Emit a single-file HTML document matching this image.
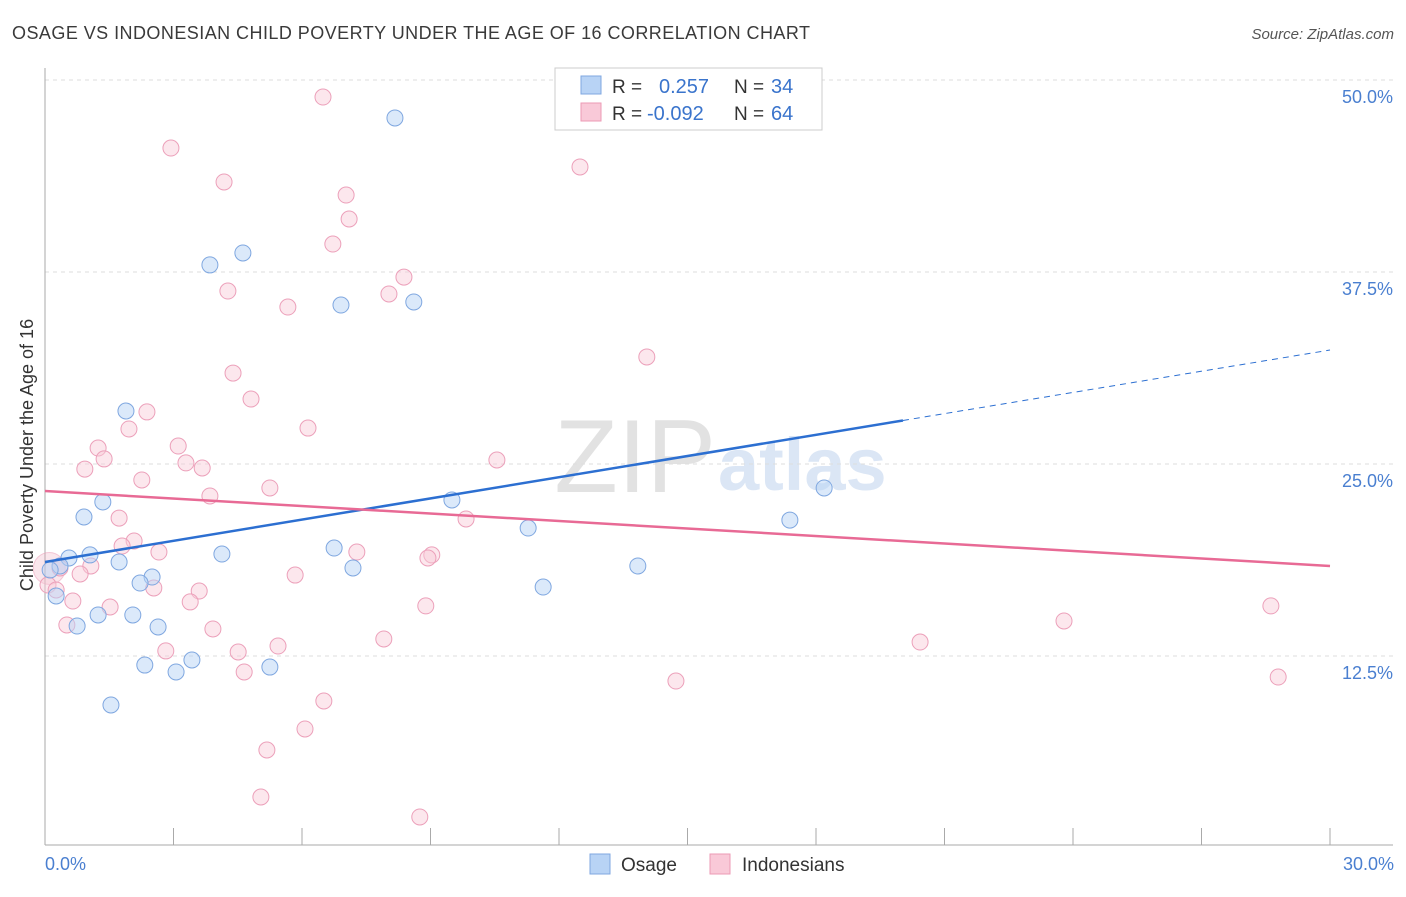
<!DOCTYPE html>
<html><head><meta charset="utf-8"><style>
body{margin:0;background:#fff;font-family:"Liberation Sans",sans-serif;}
svg text{font-family:"Liberation Sans",sans-serif;}
</style></head><body>
<svg id="chart" width="1406" height="892" xmlns="http://www.w3.org/2000/svg">
<text x="12" y="39" font-size="18" fill="#3a3a3a" letter-spacing="0.45">OSAGE VS INDONESIAN CHILD POVERTY UNDER THE AGE OF 16 CORRELATION CHART</text>
<text x="1394" y="39" font-size="15" fill="#555" text-anchor="end" font-style="italic">Source: ZipAtlas.com</text>
<text x="716" y="492" font-size="104" fill="#e2e2e2" text-anchor="end" font-family="Liberation Serif">ZIP</text>
<text x="718" y="490" font-size="74" fill="#dbe6f5" font-weight="bold">atlas</text>
<g id="grid"></g><g id="axes"></g><g id="marks"></g>
<text transform="translate(33,455) rotate(-90)" font-size="18" fill="#333" text-anchor="middle">Child Poverty Under the Age of 16</text>
<text x="45" y="870" font-size="18" fill="#4a7fd0">0.0%</text>
<text x="1394" y="870" font-size="18" fill="#4a7fd0" text-anchor="end">30.0%</text>
<g>
<rect x="555" y="68" width="267" height="62" fill="#fff" stroke="#ccc"/>
<rect x="581" y="76" width="20" height="18" fill="#b8d3f5" stroke="#7fa7e0"/>
<rect x="581" y="103" width="20" height="18" fill="#f9c9d8" stroke="#ec9ab5"/>
<text x="612" y="93" font-size="19" fill="#333">R =</text><text x="659" y="93" font-size="20" fill="#3a74cc">0.257</text>
<text x="734" y="93" font-size="19" fill="#333">N =</text><text x="771" y="93" font-size="20" fill="#3a74cc">34</text>
<text x="612" y="120" font-size="19" fill="#333">R =</text><text x="647" y="120" font-size="20" fill="#3a74cc">-0.092</text>
<text x="734" y="120" font-size="19" fill="#333">N =</text><text x="771" y="120" font-size="20" fill="#3a74cc">64</text>
</g>
<g>
<rect x="590" y="854" width="20" height="20" fill="#b8d3f5" stroke="#7fa7e0"/>
<text x="621" y="871" font-size="19" fill="#333">Osage</text>
<rect x="710" y="854" width="20" height="20" fill="#f9c9d8" stroke="#ec9ab5"/>
<text x="742" y="871" font-size="19" fill="#333">Indonesians</text>
</g>
</svg>
<script>
const yTicks=[12.5,25,37.5,50];
const yTickLabels=["12.5%","25.0%","37.5%","50.0%"];
const xTicks=[0,3,6,9,12,15,18,21,24,27,30];
const osageX=[8.17,3.85,4.62,6.91,8.61,1.89,1.35,0.91,9.50,11.28,18.19,17.39,0.56,1.05,1.73,0.35,0.26,2.50,2.22,1.24,2.05,0.75,2.64,4.13,6.75,7.19,11.63,13.84,2.33,3.06,3.43,5.25,1.54,0.12];
const osageY=[47.53,37.96,38.74,35.35,35.55,28.45,22.53,21.55,22.66,20.83,23.44,21.35,18.88,19.08,18.62,18.36,16.41,17.64,17.25,15.17,15.17,14.45,14.39,19.14,19.53,18.23,16.99,18.36,11.91,11.46,12.24,11.78,9.31,18.1];
const indoX=[6.49,2.94,4.18,7.03,7.10,6.72,12.49,8.38,4.27,8.03,5.67,14.05,4.39,4.81,2.38,1.96,6.14,1.24,3.11,1.38,0.93,3.29,3.67,2.26,3.85,5.25,10.55,1.73,9.83,2.08,1.80,2.66,7.28,9.03,8.94,1.07,0.35,0.82,0.07,0.26,2.54,0.65,1.52,3.60,3.39,5.84,8.89,0.51,3.92,5.44,7.91,2.82,4.51,4.65,20.43,23.79,28.62,28.79,14.73,6.51,6.07,5.18,5.04,8.75];
const indoY=[48.89,45.57,43.36,42.51,40.95,39.32,44.34,37.17,36.26,36.07,35.22,31.97,30.92,29.23,28.39,27.28,27.34,26.04,26.17,25.33,24.67,25.07,24.74,23.96,22.92,23.44,25.26,21.48,21.42,19.99,19.66,19.27,19.27,19.08,18.88,18.36,18.23,17.84,17.12,16.80,16.93,16.08,15.69,16.73,16.02,17.77,15.76,14.52,14.26,13.15,13.61,12.83,12.76,11.46,13.41,14.78,15.76,11.13,10.87,9.57,7.75,6.38,3.32,2.02];
const osageTrend=[18.62,32.42]; const osageSolidEnd=20.03;
const indoTrend=[23.24,18.36];
const NS="http://www.w3.org/2000/svg";
const sx=v=>45+v/30*1285, sy=v=>80+(50-v)*15.36;
function mk(parent,tag,attrs){const e=document.createElementNS(NS,tag);for(const k in attrs)e.setAttribute(k,attrs[k]);document.getElementById(parent).appendChild(e);return e;}
yTicks.forEach((t,i)=>{
 let l=mk('grid','line',{x1:45,x2:1393,y1:sy(t),y2:sy(t),stroke:'#ddd','stroke-dasharray':'4,4'});
 
 
 let tx=mk('grid','text',{x:1393,y:sy(t)+23,'font-size':18,fill:'#4a7fd0','text-anchor':'end'});tx.textContent=yTickLabels[i];
 
 
});
let ax=mk('axes','line',{x1:45,x2:45,y1:68,y2:845,stroke:'#aaa'});


let bx=mk('axes','line',{x1:45,x2:1393,y1:845,y2:845,stroke:'#aaa'});


xTicks.forEach(t=>{let l=mk('axes','line',{x1:sx(t),x2:sx(t),y1:828,y2:845,stroke:'#aaa'});
 
 });
let big=mk('marks','circle',{cx:sx(0.1),cy:sy(18.2),r:16,fill:'rgba(236,154,181,0.25)',stroke:'rgba(236,154,181,0.5)'});


indoX.forEach((x,i)=>{let c=mk('marks','circle',{cx:sx(x),cy:sy(indoY[i]),r:8,fill:'rgba(249,201,216,0.45)',stroke:'#eca0ba','stroke-width':1});
 
 });
osageX.forEach((x,i)=>{let c=mk('marks','circle',{cx:sx(x),cy:sy(osageY[i]),r:8,fill:'rgba(184,211,245,0.5)',stroke:'#7fa7e0','stroke-width':1});
 
 });
const oy=x=>osageTrend[0]+(osageTrend[1]-osageTrend[0])*x/30;
let t1=mk('marks','line',{x1:sx(0),y1:sy(oy(0)),x2:sx(osageSolidEnd),y2:sy(oy(osageSolidEnd)),stroke:'#2c6fd1','stroke-width':2.5});


let t2=mk('marks','line',{x1:sx(osageSolidEnd),y1:sy(oy(osageSolidEnd)),x2:sx(30),y2:sy(oy(30)),stroke:'#2c6fd1','stroke-width':1,'stroke-dasharray':'6,5'});


let t3=mk('marks','line',{x1:sx(0),y1:sy(indoTrend[0]),x2:sx(30),y2:sy(indoTrend[1]),stroke:'#e86a95','stroke-width':2.5});


</script>
</body></html>
